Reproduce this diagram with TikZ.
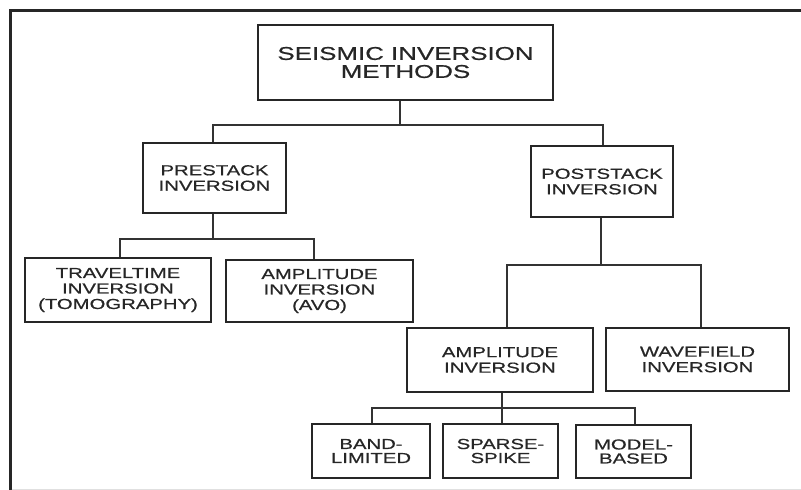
\documentclass[tikz,border=0pt]{standalone}
\usepackage{fontspec}
\setmainfont[FakeStretch=1.4,FakeBold=0.7]{Liberation Sans}
\usetikzlibrary{calc}
\tikzset{
  box/.style={draw=black!85, line width=1.4pt, inner sep=0pt, align=center, text=black!85},
  bigtxt/.style={font=\fontsize{18.5}{18}\selectfont},
  smalltxt/.style={font=\fontsize{14.5}{15.5}\selectfont},
  tinytxt/.style={font=\fontsize{14.5}{14}\selectfont},
  conn/.style={draw=black!80, line width=1.3pt},
  frameline/.style={draw=black!85, line width=3pt}
}
\begin{document}
\begin{tikzpicture}[x=1pt,y=-1pt]
\useasboundingbox (0,0) rectangle (801,490);
% frame
\draw[frameline] (10,491) -- (10,10) -- (803,10);
\draw[black!12, line width=1pt] (11.5,489) -- (801,489);

% nodes
\node[box,bigtxt,minimum width=295pt,minimum height=75pt] (top) at (405.5,62.5) {SEISMIC INVERSION\\METHODS};
\node[box,smalltxt,minimum width=143pt,minimum height=70pt] (pre) at (214.5,178) {PRESTACK\\INVERSION};
\node[box,smalltxt,minimum width=142pt,minimum height=71pt] (post) at (602,181.5) {POSTSTACK\\INVERSION};
\node[box,smalltxt,minimum width=186pt,minimum height=64pt] (trav) at (118,290) {TRAVELTIME\\INVERSION\\(TOMOGRAPHY)};
\node[box,smalltxt,minimum width=187pt,minimum height=62pt] (avo) at (319.5,291) {AMPLITUDE\\INVERSION\\(AVO)};
\node[box,smalltxt,minimum width=186pt,minimum height=64pt] (amp) at (500,360) {AMPLITUDE\\INVERSION};
\node[box,smalltxt,minimum width=183pt,minimum height=63pt] (wave) at (697.5,359.5) {WAVEFIELD\\INVERSION};
\node[box,tinytxt,minimum width=118pt,minimum height=54pt] (band) at (371,451) {BAND-\\LIMITED};
\node[box,tinytxt,minimum width=115pt,minimum height=54pt] (sparse) at (500.5,451) {SPARSE-\\SPIKE};
\node[box,tinytxt,minimum width=115pt,minimum height=53pt] (model) at (633.5,451.5) {MODEL-\\BASED};

% junctions
\coordinate (j1) at (400,125);
\coordinate (j2) at (213,239);
\coordinate (j3) at (601,265);
\coordinate (j4) at (502,408);

% connectors
\draw[conn] (top.south -| j1) -- (j1);
\draw[conn] ([xshift=-1.5pt]pre.north) |- (j1) -| ([xshift=1pt]post.north);
\draw[conn] (pre.south -| j2) -- (j2);
\draw[conn] ([xshift=2pt]trav.north) |- (j2) -| ([xshift=-5.5pt]avo.north);
\draw[conn] (post.south -| j3) -- (j3);
\draw[conn] ([xshift=7pt]amp.north) |- (j3) -| ([xshift=3.5pt]wave.north);
\draw[conn] (amp.south -| j4) -- (j4);
\draw[conn] ([xshift=1pt]band.north) |- (j4) -| ([xshift=1.5pt]model.north);
\draw[conn] (j4) -- (sparse.north -| j4);
\end{tikzpicture}
\end{document}
